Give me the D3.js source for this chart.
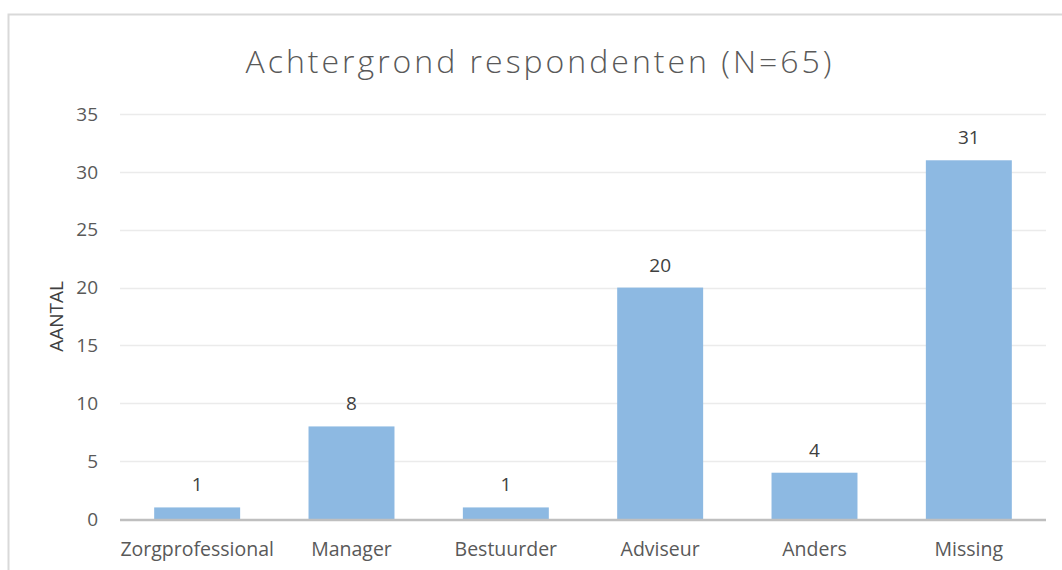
<!DOCTYPE html>
<html>
<head>
<meta charset="utf-8">
<script src="https://cdn.jsdelivr.net/npm/d3@7"></script>
<style>
  body { margin: 0; background: #fff; }
  svg { display: block; font-family: "Open Sans", Lato, sans-serif; }
</style>
</head>
<body>
<div id="chart"></div>
<script>
const categories = ["Zorgprofessional", "Manager", "Bestuurder", "Adviseur", "Anders", "Missing"];
const counts = [1, 8, 1, 20, 4, 31];
const yTicks = [0, 5, 10, 15, 20, 25, 30, 35];

const W = 1062, H = 570;
const plot = {left: 120, right: 1046, top: 114, bottom: 519};

const svg = d3.select('#chart').append('svg')
    .attr('width', W)
    .attr('height', H);

// chart frame (runs off the page right and bottom)
svg.append('rect')
    .attr('x', 8.5).attr('y', 14.5)
    .attr('width', W + 20).attr('height', H + 20)
    .attr('fill', '#fff')
    .attr('stroke', '#d9d9d9')
    .attr('stroke-width', 2);

const x = d3.scaleBand()
    .domain(categories)
    .range([plot.left, plot.right])
    .paddingInner(0.443)
    .paddingOuter(0.2215);

const y = d3.scaleLinear()
    .domain([0, 35])
    .range([plot.bottom, plot.top]);

// gridlines
svg.append('g')
    .selectAll('line')
    .data(yTicks.filter(d => d > 0))
    .enter().append('line')
    .attr('x1', plot.left).attr('x2', plot.right)
    .attr('y1', d => Math.round(y(d)) + 0.5)
    .attr('y2', d => Math.round(y(d)) + 0.5)
    .attr('stroke', '#ebebeb')
    .attr('stroke-width', 1.5);

// y tick labels
svg.append('g')
    .selectAll('text')
    .data(yTicks)
    .enter().append('text')
    .attr('x', 98)
    .attr('y', d => y(d))
    .attr('dy', '0.35em')
    .attr('text-anchor', 'end')
    .attr('fill', '#595959')
    .style('font-size', '19px')
    .text(d => d);

// bars
svg.append('g')
    .selectAll('rect')
    .data(counts)
    .enter().append('rect')
    .attr('x', (d, i) => x(categories[i]))
    .attr('y', d => y(d))
    .attr('width', x.bandwidth())
    .attr('height', d => y(0) - y(d))
    .attr('fill', '#8db9e2');

// value labels
svg.append('g')
    .selectAll('text')
    .data(counts)
    .enter().append('text')
    .attr('x', (d, i) => x(categories[i]) + x.bandwidth() / 2)
    .attr('y', d => y(d) - 16)
    .attr('text-anchor', 'middle')
    .attr('fill', '#404040')
    .style('font-size', '19px')
    .text(d => d);

// baseline
svg.append('line')
    .attr('x1', plot.left).attr('x2', plot.right)
    .attr('y1', y(0) + 1).attr('y2', y(0) + 1)
    .attr('stroke', '#bfbfbf')
    .attr('stroke-width', 2.5);

// x labels
svg.append('g')
    .selectAll('text')
    .data(categories)
    .enter().append('text')
    .attr('x', d => x(d) + x.bandwidth() / 2)
    .attr('y', 556)
    .attr('text-anchor', 'middle')
    .attr('fill', '#595959')
    .style('font-size', '19.5px')
    .text(d => d);

// axis title
svg.append('text')
    .attr('transform', 'translate(63,' + (plot.top + plot.bottom) / 2 + ') rotate(-90)')
    .attr('text-anchor', 'middle')
    .attr('fill', '#404040')
    .style('font-size', '19px')
    .text('AANTAL');

// chart title
svg.append('text')
    .attr('x', 540)
    .attr('y', 73)
    .attr('text-anchor', 'middle')
    .attr('fill', '#595959')
    .style('font-size', '32px')
    .style('font-weight', 300)
    .style('letter-spacing', '3px')
    .text('Achtergrond respondenten (N=65)');
</script>
</body>
</html>
